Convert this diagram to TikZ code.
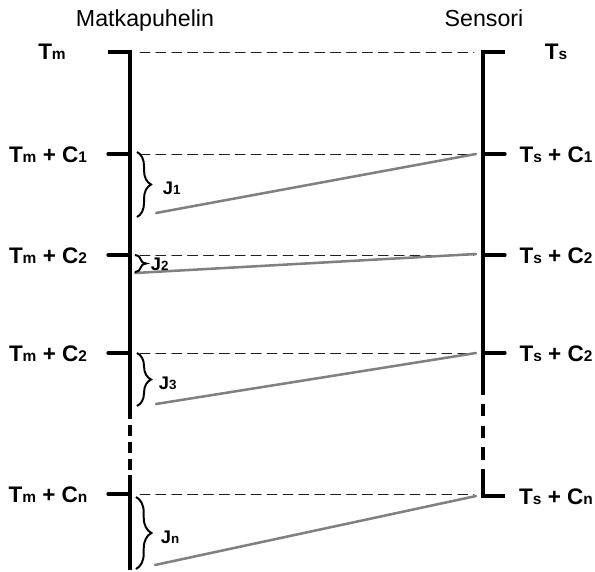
\documentclass[tikz,border=0pt]{standalone}
\usepackage{fontspec}
\setmainfont{Liberation Sans}
\usepackage{tkz-euclide}
\usetikzlibrary{decorations.pathreplacing}
\definecolor{SlopeClr}{RGB}{128,128,128}
\definecolor{GuideClr}{RGB}{30,30,30}
\newcommand{\TickSub}[1]{{\fontsize{11}{11}\selectfont #1}}
\newcommand{\JitSub}[1]{{\fontsize{9.5}{10}\selectfont #1}}
\tikzset{
  axisline/.style={line width=2.3pt,color=black,line join=miter},
  axisgapM/.style={line width=2.3pt,color=black,dash pattern=on 8pt off 4pt},
  axisgapS/.style={line width=2.3pt,color=black,dash pattern=on 9pt off 6.5pt},
  guideline/.style={line width=0.7pt,color=GuideClr,dash pattern=on 7pt off 4.3pt},
  slopeline/.style={line width=1.8pt,color=SlopeClr},
  jitbrace/.style={decorate,decoration={brace,amplitude=#1},line width=1.4pt},
  timelbl/.style={font=\bfseries\fontsize{16}{19}\selectfont},
  jitlbl/.style={font=\bfseries\fontsize{13}{15}\selectfont,anchor=west},
  devlbl/.style={font=\fontsize{16.5}{19}\selectfont,anchor=base}
}

\begin{document}
\begin{tikzpicture}[x=0.025cm,y=0.025cm]
\useasboundingbox (0,0) rectangle (595,-572);

% phone axis (left)
\tkzDefPoint(130,-52){M0}
\tkzDefPoint(130,-154){M1}
\tkzDefPoint(130,-255){M2}
\tkzDefPoint(130,-353){M3}
\tkzDefPoint(130,-494){M4}
\tkzDefPoint(130,-408){Mbrk}
\tkzDefPoint(130,-478){Mres}
\tkzDefPoint(130,-570){Mend}
\tkzDefPoint(108,-52){Mt0}
\tkzDefPoint(108,-154){Mt1}
\tkzDefPoint(108,-255){Mt2}
\tkzDefPoint(108,-353){Mt3}
\tkzDefPoint(108,-494){Mt4}

% sensor axis (right)
\tkzDefPoint(483,-52){S0}
\tkzDefPoint(483,-154){S1}
\tkzDefPoint(483,-255){S2}
\tkzDefPoint(483,-353){S3}
\tkzDefPoint(483,-496){S4}
\tkzDefPoint(483,-382){Sbrk}
\tkzDefPoint(483,-478){Sres}
\tkzDefPoint(505,-52){St0}
\tkzDefPoint(505,-154){St1}
\tkzDefPoint(505,-255){St2}
\tkzDefPoint(505,-353){St3}
\tkzDefPoint(505,-496){St4}

% dashed guides
\tkzDefPoint(140,-52){Gl0}
\tkzDefPoint(474,-52){Gr0}
\tkzDefPoint(140,-154){Gl1}
\tkzDefPoint(474,-154){Gr1}
\tkzDefPoint(140,-255){Gl2}
\tkzDefPoint(474,-255){Gr2}
\tkzDefPoint(140,-353){Gl3}
\tkzDefPoint(474,-353){Gr3}
\tkzDefPoint(140,-494){Gl4}
\tkzDefPoint(474,-494){Gr4}

% message arrivals
\tkzDefPoint(476,-154){Q1}
\tkzDefPoint(156,-213){P1}
\tkzDefPoint(476,-254){Q2}
\tkzDefPoint(135,-273){P2}
\tkzDefPoint(476,-353){Q3}
\tkzDefPoint(156,-404){P3}
\tkzDefPoint(476,-496){Q4}
\tkzDefPoint(155,-565){P4}

% jitter braces
\tkzDefPoint(137,-152){B1a}
\tkzDefPoint(137,-217){B1b}
\tkzDefPoint(135,-255){B2a}
\tkzDefPoint(135,-272){B2b}
\tkzDefPoint(137,-353){B3a}
\tkzDefPoint(137,-406){B3b}
\tkzDefPoint(136,-497){B4a}
\tkzDefPoint(136,-569){B4b}

\tkzDrawSegments[guideline](Gl0,Gr0 Gl1,Gr1 Gl2,Gr2 Gl3,Gr3 Gl4,Gr4)
\tkzDrawSegments[slopeline](P1,Q1 P2,Q2 P3,Q3 P4,Q4)

\draw[axisline] (Mt0) -- (M0) -- (Mbrk);
\draw[axisgapM] (Mbrk) -- (Mres);
\draw[axisline] (Mres) -- (Mend);
\tkzDrawSegments[axisline](Mt1,M1 Mt2,M2 Mt3,M3 Mt4,M4)

\draw[axisline] (St0) -- (S0) -- (Sbrk);
\draw[axisgapS] (Sbrk) -- (Sres);
\draw[axisline] (Sres) -- (S4) -- (St4);
\tkzDrawSegments[axisline](S1,St1 S2,St2 S3,St3)

\draw[jitbrace=10pt] (B1a) -- (B1b);
\draw[jitbrace=8pt] (B2a) -- (B2b);
\draw[jitbrace=10pt] (B3a) -- (B3b);
\draw[jitbrace=11pt] (B4a) -- (B4b);

\node[devlbl] (phone) at (145,-27) {Matkapuhelin};
\node[devlbl] (sensor) at (484,-27) {Sensori};

\node[timelbl] (tm0) at (52,-52) {T\TickSub{m}};
\node[timelbl] (tm1) at (48,-155) {T\TickSub{m} + C\TickSub{1}};
\node[timelbl] (tm2) at (48,-256) {T\TickSub{m} + C\TickSub{2}};
\node[timelbl] (tm3) at (48,-354) {T\TickSub{m} + C\TickSub{2}};
\node[timelbl] (tm4) at (48,-495) {T\TickSub{m} + C\TickSub{n}};

\node[timelbl] (ts0) at (556,-52) {T\TickSub{s}};
\node[timelbl] (ts1) at (556,-155) {T\TickSub{s} + C\TickSub{1}};
\node[timelbl] (ts2) at (556,-256) {T\TickSub{s} + C\TickSub{2}};
\node[timelbl] (ts3) at (556,-354) {T\TickSub{s} + C\TickSub{2}};
\node[timelbl] (ts4) at (556,-497) {T\TickSub{s} + C\TickSub{n}};

\node[jitlbl] (j1) at (158,-188) {J\JitSub{1}};
\node[jitlbl] (j2) at (146,-264) {J\JitSub{2}};
\node[jitlbl] (j3) at (154,-383) {J\JitSub{3}};
\node[jitlbl] (j4) at (156,-537) {J\JitSub{n}};

\end{tikzpicture}
\end{document}
